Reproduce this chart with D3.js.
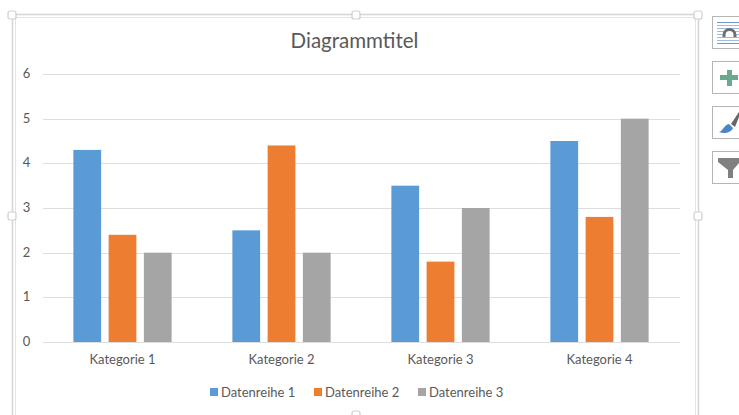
<!DOCTYPE html>
<html lang='en'>
	<head>
		<title>Diagrammtitel</title>
		<meta charset=utf-8>
		<script src="https://cdn.jsdelivr.net/npm/d3@7/dist/d3.min.js"></script>
		<style>
			html, body {
				margin: 0;
				padding: 0;
				background-color: white;
				overflow: hidden;
			}
			svg {
				display: block;
			}
			text {
				font-family: Lato, "Open Sans", sans-serif;
				fill: #595959;
			}
		</style>
	</head>
	<body>
		<svg id='chart' width="739" height="415"></svg>
	</body>

	<script>
		// data
		const categories = ['Kategorie 1', 'Kategorie 2', 'Kategorie 3', 'Kategorie 4'];
		const seriesNames = ['Datenreihe 1', 'Datenreihe 2', 'Datenreihe 3'];
		const series1 = [4.3, 2.5, 3.5, 4.5];
		const series2 = [2.4, 4.4, 1.8, 2.8];
		const series3 = [2, 2, 3, 5];
		const yTicks = [0, 1, 2, 3, 4, 5, 6];
		const seriesValues = [series1, series2, series3];
		const colors = ['#5b9bd5', '#ed7d31', '#a5a5a5'];

		const svg = d3.select('#chart');
		const plot = {left: 43, right: 680, top: 74, bottom: 342};

		const x0 = d3.scaleBand().domain(categories).range([plot.left, plot.right - 1]);
		const x1 = d3.scaleBand().domain(seriesNames).range([0, x0.bandwidth()])
			.paddingInner(0.2126).paddingOuter(0.862);
		const y = d3.scaleLinear().domain([0, 6]).range([plot.bottom, plot.top]);

		// selection frame round the chart
		const frame = svg.append('g').attr('fill', 'none').attr('stroke', '#d4d4d4');
		frame.append('path').attr('stroke-width', 1.5).attr('d', 'M12.5,430V14.5H698.5V430');
		frame.append('path').attr('stroke-width', 1).attr('stroke', '#e4e4e4').attr('d', 'M15.5,430V17.5H695.5V430');

		const handles = [[12, 15], [356, 15], [698, 15], [12, 216], [698, 216], [356, 415]];
		svg.append('g').selectAll('rect').data(handles).join('rect')
			.attr('x', d => d[0] - 4).attr('y', d => d[1] - 4)
			.attr('width', 8).attr('height', 8).attr('rx', 2)
			.attr('fill', 'white').attr('stroke', '#cfcfcf').attr('stroke-width', 1.2);

		// title
		svg.append('text').attr('x', 354.5).attr('y', 48).attr('text-anchor', 'middle')
			.attr('font-size', 20.5).text('Diagrammtitel');

		// gridlines
		svg.append('g').selectAll('line').data(yTicks).join('line')
			.attr('x1', plot.left).attr('x2', plot.right)
			.attr('y1', d => Math.round(y(d)) + 0.5).attr('y2', d => Math.round(y(d)) + 0.5)
			.attr('stroke', '#dedede').attr('stroke-width', 1);

		// y labels
		svg.append('g').selectAll('text').data(yTicks).join('text')
			.attr('x', 26.5).attr('y', d => y(d) + 4).attr('text-anchor', 'middle')
			.attr('font-size', 13).text(d => d);

		// bars
		const groups = svg.append('g').selectAll('g').data(categories).join('g')
			.attr('transform', d => 'translate(' + x0(d) + ',0)');
		groups.selectAll('rect').data((d, i) => seriesValues.map((v, s) => ({s: seriesNames[s], c: colors[s], v: v[i]})))
			.join('rect')
			.attr('x', d => x1(d.s)).attr('width', x1.bandwidth())
			.attr('y', d => y(d.v)).attr('height', d => y(0) - y(d.v))
			.attr('fill', d => d.c);

		// category labels
		svg.append('g').selectAll('text').data(categories).join('text')
			.attr('x', d => x0(d) + x0.bandwidth() / 2).attr('y', 364).attr('text-anchor', 'middle')
			.attr('font-size', 13).text(d => d);

		// legend
		const legendX = [210, 314, 418];
		const legend = svg.append('g').selectAll('g').data(seriesNames).join('g')
			.attr('transform', (d, i) => 'translate(' + legendX[i] + ',388)');
		legend.append('rect').attr('width', 8).attr('height', 8).attr('fill', (d, i) => colors[i]);
		legend.append('text').attr('x', 11).attr('y', 8.5).attr('font-size', 13).text(d => d);

		// side buttons
		const buttons = [16, 61, 106, 151];
		svg.append('g').selectAll('rect').data(buttons).join('rect')
			.attr('x', 712.5).attr('y', d => d + 0.5).attr('width', 40).attr('height', 32)
			.attr('fill', 'white').attr('stroke', '#b5b5b5').attr('stroke-width', 1);

		// layout icon
		const icon = svg.append('g');
		[22, 25, 28, 31, 34, 37, 40, 43].forEach(function(ly, i) {
			const edge = i === 0 || i === 7;
			icon.append('line').attr('x1', 717).attr('x2', 739).attr('y1', ly + 0.5).attr('y2', ly + 0.5)
				.attr('stroke', edge ? '#6f9bc8' : '#9dbcdc').attr('stroke-width', 1);
		});
		icon.append('path').attr('d', 'M724,37V35A5.5,5.5 0 0 1 735,35V37').attr('fill', 'white')
			.attr('stroke', '#6e6e6e').attr('stroke-width', 3);

		// plus icon
		icon.append('path').attr('d', 'M727,70H732V75H738V80H732V86H727V80H720V75H727Z').attr('fill', '#6aa88f');

		// brush icon
		icon.append('path').attr('d', 'M731,124L739,112V117L735,127Z').attr('fill', '#666');
		icon.append('path').attr('d', 'M719,132C723,131 724,125 729,124L733,128C731,133 724,134 719,132Z').attr('fill', '#4a86c5');

		// filter icon
		icon.append('path').attr('d', 'M718,158H739V163L733,170V178H728V170L718,162Z').attr('fill', '#808080');
	</script>
</html>
